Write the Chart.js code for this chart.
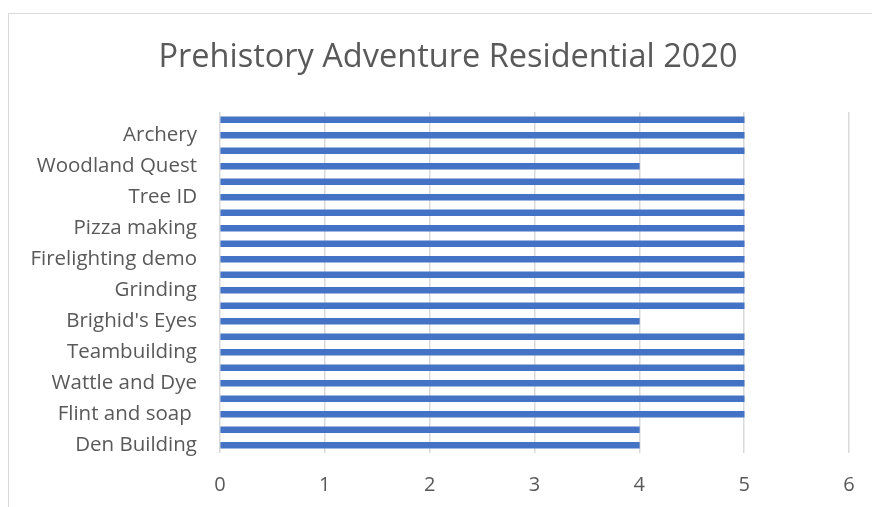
<!DOCTYPE html>
<html>
<head>
<meta charset="utf-8">
<script src="https://cdn.jsdelivr.net/npm/chart.js@4.4.1/dist/chart.umd.min.js"></script>
<style>
  html, body { margin: 0; padding: 0; background: #fff; }
  #wrap { position: relative; width: 872px; height: 507px; }
  #frame { position: absolute; left: 8px; top: 13px; right: -2px; bottom: -2px;
           border-left: 1.5px solid #d9d9d9; border-top: 1.5px solid #d9d9d9; }
  canvas { position: absolute; left: 0; top: 0; }
</style>
</head>
<body>
<div id="wrap">
  <div id="frame"></div>
  <canvas id="chart" width="872" height="507"></canvas>
</div>
<script>
// categories in sheet order (first one sits at the bottom), only every other label is visible
const categories = [
  'Den Building', '', 'Flint and soap ', '', 'Wattle and Dye', '',
  'Teambuilding', '', "Brighid's Eyes", '', 'Grinding', '',
  'Firelighting demo', '', 'Pizza making', '', 'Tree ID', '',
  'Woodland Quest', '', 'Archery', ''
]
const scores = [4, 4, 5, 5, 5, 5, 5, 5, 4, 5, 5, 5, 5, 5, 5, 5, 5, 5, 4, 5, 5, 5]
const xTicks = [0, 1, 2, 3, 4, 5, 6]
const chartTitle = 'Prehistory Adventure Residential 2020'

const textColor = '#595959'
const fontFamily = '"Open Sans", sans-serif'

// the excel frame is wider than the picture, so the title is centred a bit right of the canvas middle
const titlePlugin = {
    id: 'frameTitle',
    afterDraw(chart) {
        const c = chart.ctx
        c.save()
        c.fillStyle = textColor
        c.font = '32.5px ' + fontFamily
        c.textAlign = 'center'
        c.textBaseline = 'middle'
        c.fillText(chartTitle, 448, 58)
        c.restore()
    }
}

const ctx = document.getElementById('chart').getContext('2d')
new Chart(ctx, {
    type: 'bar',
    data: {
        labels: categories,
        datasets: [{
            label: 'Score',
            data: scores,
            backgroundColor: '#4472C4',
            barThickness: 6,
        }],
    },
    plugins: [titlePlugin],
    options: {
        indexAxis: 'y',
        responsive: false,
        animation: false,
        layout: { padding: { left: 0, right: 23, top: 112, bottom: 0 } },
        plugins: {
            legend: { display: false },
            tooltip: { enabled: false },
            title: { display: false },
        },
        scales: {
            x: {
                min: 0,
                max: 6,
                afterBuildTicks: (scale) => { scale.ticks = xTicks.map(v => ({ value: v })) },
                afterFit: (scale) => {
                    scale.height = 54
                    scale.paddingRight = 0
                    scale.paddingLeft = 0
                },
                grid: { color: '#d9d9d9', lineWidth: 1.5, drawTicks: false },
                border: { display: false },
                ticks: {
                    color: textColor,
                    padding: 20,
                    font: { family: fontFamily, size: 20 },
                },
            },
            y: {
                reverse: true,
                afterFit: (scale) => { scale.width = 220 },
                grid: { display: false },
                border: { display: false },
                ticks: {
                    autoSkip: false,
                    color: textColor,
                    padding: 15,
                    font: { family: fontFamily, size: 20.5 },
                },
            },
        },
    },
})
</script>
</body>
</html>
